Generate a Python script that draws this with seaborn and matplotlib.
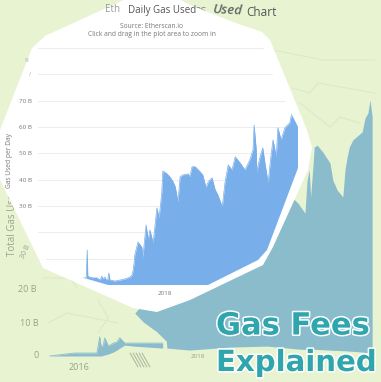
#!/usr/bin/env python3
# -*- coding: utf-8 -*-

import matplotlib
matplotlib.use("Agg")
import matplotlib.pyplot as plt
import matplotlib.patheffects as pe
from matplotlib.patches import Polygon
from matplotlib.transforms import Affine2D
import seaborn as sns

# --- DATA: front chart (blue, gas used per day, billions) ---
FRONT_YEARS = [2016.48, 2016.54, 2016.56, 2016.57, 2016.61, 2016.67, 2016.74, 2016.80, 2016.83, 2016.85, 2016.89,
               2016.91, 2016.94, 2016.96, 2016.98, 2017.07, 2017.17, 2017.26, 2017.31, 2017.35, 2017.39,
               2017.41, 2017.43, 2017.44, 2017.50, 2017.57, 2017.59, 2017.65, 2017.69, 2017.72, 2017.78,
               2017.83, 2017.85, 2017.89, 2017.94, 2017.96, 2018.04, 2018.09, 2018.15, 2018.19, 2018.24,
               2018.28, 2018.33, 2018.43, 2018.46, 2018.50, 2018.56, 2018.65, 2018.70, 2018.76, 2018.80,
               2018.87, 2018.93, 2018.98, 2019.06, 2019.11, 2019.17, 2019.24, 2019.30, 2019.39, 2019.48,
               2019.57, 2019.63, 2019.65, 2019.69, 2019.70, 2019.76, 2019.81, 2019.85, 2019.91, 2019.96,
               2020.00, 2020.06, 2020.09, 2020.15, 2020.22, 2020.31, 2020.35, 2020.46]
FRONT_GAS = [2.7, 2.7, 13.3, 3.4, 3.0, 2.7, 2.7, 1.9, 3.4, 2.3, 3.0,
             1.9, 1.9, 4.6, 1.9, 1.5, 1.9, 2.3, 2.7, 3.0, 3.8,
             5.7, 8.7, 11.4, 16.3, 14.4, 10.6, 22.8, 17.1, 20.9, 16.0,
             25.5, 29.3, 25.5, 35.0, 43.3, 42.2, 41.1, 39.2, 37.3, 31.6,
             41.1, 41.8, 42.2, 41.1, 44.9, 44.9, 43.0, 41.8, 36.9, 39.2,
             40.7, 36.1, 34.2, 29.7, 38.8, 45.6, 43.7, 48.7, 46.4, 43.7,
             47.5, 51.3, 60.8, 51.3, 43.0, 48.7, 52.1, 46.4, 38.8, 48.7,
             55.1, 48.7, 59.7, 55.1, 59.7, 61.6, 65.4, 60.1]
FRONT_YTICKS = [0, 10, 20, 30, 40, 50, 60, 70, 80, 90]
FRONT_YLABELS = ["", "", "", "30 B", "40 B", "50 B", "60 B", "70 B", "", ""]

# --- DATA: warped back chart (teal) ---
TAIL_YEARS = [2015.59, 2015.94, 2016.01, 2016.25, 2016.29, 2016.31, 2016.34, 2016.36, 2016.41, 2016.48,
              2016.53, 2016.57, 2016.64, 2016.76, 2017.17]
TAIL_TOP = [0.0, 0.9, 0.9, 0.9, 5.8, 2.7, 3.3, 5.5, 3.0, 3.9, 4.2, 5.5, 3.9, 3.9, 3.9]
TAIL_LOW = [0.0, 0.0, 0.0, 0.0, 0.0, 0.0, 0.2, 0.3, 0.6, 1.2, 1.8, 2.4, 3.3, 3.0, 2.4]

BACK_YEARS = [2016.78, 2016.90, 2017.09, 2017.22, 2017.23, 2017.55, 2018.11, 2018.63, 2019.06, 2019.16,
              2019.19, 2019.22, 2019.24, 2019.27, 2019.29, 2019.33, 2019.41, 2019.51, 2019.55, 2019.61,
              2019.69, 2019.72, 2019.75, 2019.78, 2019.83, 2019.96, 2020.00, 2020.04, 2020.07, 2020.10]
BACK_TOP = [13.0, 16.0, 25.0, 35.0, 40.0, 45.0, 50.0, 55.0, 46.4, 43.3,
            53.3, 56.4, 48.2, 57.0, 63.3, 63.9, 61.8, 58.5, 53.3, 50.3,
            48.2, 56.4, 60.3, 63.3, 65.5, 67.9, 72.1, 73.6, 77.6, 72.4]
BACK_LOW = [13.0, 10.3, 7.3, 4.5, 2.4, 1.8, 2.7, 3.0, 2.1, 2.0,
            2.0, 2.0, 2.0, 2.0, 2.0, 2.0, 1.9, 1.8, 1.7, 1.7,
            1.6, 1.6, 1.5, 1.5, 1.4, 1.2, 1.1, 1.0, 1.0, 0.9]

# --- CONFIG ---
GREEN = "#e8f3d2"
TEAL = "#8abccb"
BLUE = "#78aeea"
GREY = "#777777"
W, H = 381, 382

sns.set_theme(style="white", rc={"font.family": ["Open Sans", "DejaVu Sans"]})

fig = plt.figure(figsize=(W / 100, H / 100), dpi=100, facecolor=GREEN)
px = Affine2D().scale(1 / W, -1 / H).translate(0, 1) + fig.transFigure

# cut out shape and the smaller one the blue chart lives in
outer_pts = [(128, -2), (177, -2), (190, 5), (233, 22), (262, 32), (270, 40), (307, 130), (312, 147),
             (308, 170), (273, 247), (263, 265), (190, 300), (157, 312), (133, 308), (43, 268),
             (5, 190), (0, 180), (-2, 155), (0, 130), (32, 48), (45, 36)]
inner_pts = [(38, 44), (262, 44), (273, 75), (285, 101), (298, 127), (298, 168), (267, 250), (258, 260),
             (207, 285.5), (110, 285.5), (84, 278), (45, 259), (38, 245)]
title_pts = [(108, 8), (128, 4), (188, 4), (188, 20), (108, 20)]
outer = Polygon(outer_pts, closed=True, transform=px, fc="white", ec="none", zorder=5, clip_on=False)
inner = Polygon(inner_pts, closed=True, transform=px)
title_clip = Polygon(title_pts, closed=True, transform=px)

# --- back chart, whole figure, 71.5 px per year and 3.3 px per B ---
ax_back = fig.add_axes([0, 0, 1, 1])
ax_back.set_xlim(2016 - 79 / 71.5, 2016 + (W - 79) / 71.5)
ax_back.set_ylim(-(H - 356) / 3.3, 356 / 3.3)
ax_back.axis("off")

ax_back.fill_between(TAIL_YEARS, TAIL_LOW, TAIL_TOP, color=TEAL, lw=0)
ax_back.fill_between(BACK_YEARS, BACK_LOW, BACK_TOP, color=TEAL, lw=0)
sns.lineplot(x=TAIL_YEARS, y=TAIL_TOP, ax=ax_back, color=TEAL, lw=0.6)

# warped gridlines that show faintly on the green
ghost_lines = [[(273, 50), (323, 60), (375, 60)],
               [(292, 88), (310, 93), (318, 83), (375, 93)],
               [(300, 103), (330, 127), (340, 117), (360, 123)],
               [(43, 278), (70, 278), (77, 288)],
               [(48, 323), (67, 313), (118, 323)],
               [(98, 300), (108, 318), (98, 333)]]
for line in ghost_lines:
    ax_back.plot(*zip(*line), transform=px, color="#dce9c8", lw=0.8)

# the smeared tick marks below the neck
for dx in range(0, 15, 3):
    ax_back.plot([130 + dx, 138 + dx], [353, 367], transform=px, color="#a9b59c", lw=0.7)

for x, y, s in [(39, 356, "0"), (39, 323, "10 B"), (37, 290, "20 B")]:
    ax_back.text(x, y, s, transform=px, ha="right", va="center", fontsize=6.5, color="#98a48c")
ax_back.text(26, 252, "30 B", transform=px, ha="center", va="center", fontsize=5, rotation=65, color="#98a48c")
ax_back.text(79, 367, "2016", transform=px, ha="center", va="center", fontsize=6.5, color="#98a48c")
ax_back.text(198, 357, "2018", transform=px, ha="center", va="center", fontsize=4.5, color="#98a48c")
ax_back.text(13, 256, "Total Gas Used", transform=px, rotation=90, ha="center", va="bottom",
             fontsize=7, color="#98a48c")

ax_back.text(207, 10, "as", transform=px, ha="right", va="center", fontsize=8.5, color="#888888")
ax_back.text(212, 10, "Used", transform=px, ha="left", va="center", fontsize=9.5, style="italic",
             weight="semibold", color="#666666", rotation=-3)
ax_back.text(246, 12, "Chart", transform=px, ha="left", va="center", fontsize=8.5, color="#555555")
ax_back.add_patch(outer)

# --- front chart ---
ax = fig.add_axes([38 / W, 1 - 285 / H, (299 - 38) / W, (285 - 48) / H], facecolor="none", zorder=3)
ax.set_xlim(2018 + (38 - 165) / 54, 2018 + (299 - 165) / 54)
ax.set_ylim(0, 90)

fill = ax.fill_between(FRONT_YEARS, 0, FRONT_GAS, color=BLUE, lw=0)
fill.set_clip_path(inner)
sns.lineplot(x=FRONT_YEARS, y=FRONT_GAS, ax=ax, color=BLUE, lw=0.5)
ax.lines[-1].set_clip_path(inner)

ax.set_yticks(FRONT_YTICKS, FRONT_YLABELS)
ax.set_xticks([2018], ["2018"])
ax.tick_params(axis="both", length=0, labelsize=4.5, labelcolor=GREY, pad=4.5)
ax.yaxis.grid(True, color="#ececec", lw=0.7)
ax.set_axisbelow(True)
for gl in ax.get_ygridlines():
    gl.set_clip_path(inner)
sns.despine(ax=ax, left=True, bottom=True)

# texts on the white shape, cut off where the shape ends
def front_text(x, y, s, clip=None, **kw):
    t = fig.text(0, 0, s, ha=kw.pop("ha", "center"), va="center", color=kw.pop("color", GREY), zorder=6, **kw)
    t.set_position((x, y))
    t.set_transform(px)
    if clip is not None:
        t.set_clip_path(clip)
    return t

front_text(10, 160, "Gas Used per Day", clip=outer, rotation=90, fontsize=4.8)
front_text(26, 60, "9", fontsize=4.5, color="#aaaaaa")
front_text(30, 74, "/", fontsize=4.5, color="#aaaaaa")
front_text(105, 10, "Eth", ha="left", fontsize=7, color="#999999", clip=title_clip)
front_text(128, 10, "Daily Gas Used", ha="left", fontsize=7, color="#555555", clip=title_clip)
front_text(152, 26, "Source: Etherscan.io", fontsize=4.8)
front_text(152, 35, "Click and drag in the plot area to zoom in", fontsize=4.8)

# --- headline ---
outline = [pe.withStroke(linewidth=2.2, foreground="white")]
front_text(216, 326, "Gas Fees", ha="left", fontsize=22, weight="bold", family="DejaVu Sans",
           color="#2fa5ae", path_effects=outline)
front_text(216, 363, "Explained", ha="left", fontsize=21, weight="bold", family="DejaVu Sans",
           color="#2fa5ae", path_effects=outline)

fig.savefig("out.png", dpi=100, facecolor=GREEN)
